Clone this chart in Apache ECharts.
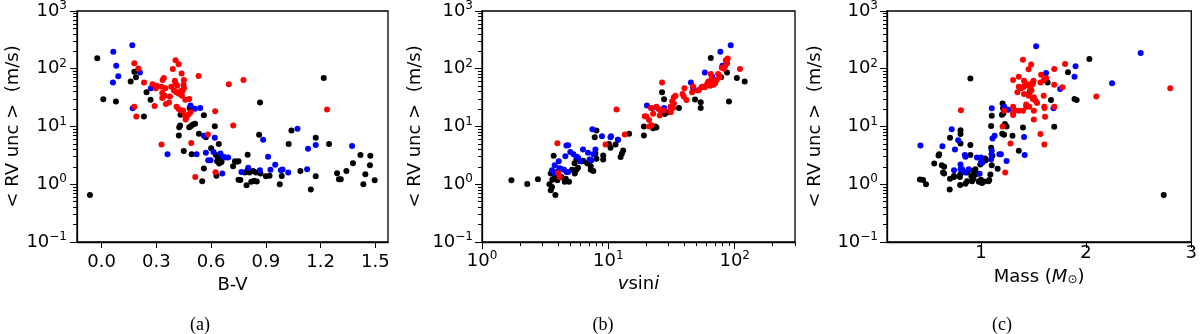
<!DOCTYPE html>
<html>
<head>
<meta charset="utf-8">
<script src="https://cdn.jsdelivr.net/npm/echarts@6/dist/echarts.min.js"></script>
<style>
  html, body { margin: 0; padding: 0; background: #fff; }
  #chart { width: 1200px; height: 334px; }
</style>
</head>
<body>
<div id="chart"></div>
<script>
// ---- panel (a): B-V vs <RV unc> ----
const bvBlack = [
  [-0.064,0.65],[-0.024,152],[0.009,29.6],[0.078,27],[0.159,60],[0.179,89],[0.188,71],[0.232,14.9],[0.246,39],[0.268,29],
  [0.432,15.9],[0.43,10.4],[0.425,9.7],[0.423,7.0],[0.48,9.7],[0.49,10.2],[0.50,10.8],[0.512,11.2],[0.482,21],[0.45,3.75],
  [0.493,3.3],[0.56,15.7],[0.62,10.1],[0.533,7.5],[0.571,6.5],[0.642,5.0],[0.60,4.2],[0.626,3.2],[0.637,2.67],[0.633,2.5],
  [0.644,2.28],[0.657,2.43],[0.648,3.04],[0.73,2.5],[0.74,2.45],[0.75,2.5],[0.72,2.04],[0.56,1.87],[0.551,1.13],[0.629,1.41],
  [0.75,1.2],[0.76,1.18],[0.80,3.25],[0.785,1.6],[0.80,1.75],[0.81,1.6],[0.83,1.7],[0.845,1.6],[0.82,1.1],[0.794,0.96],
  [0.835,1.15],[0.85,1.12],[0.87,1.53],[0.863,7.2],[0.868,26],[0.90,1.37],[0.92,1.4],[0.987,1.39],[0.976,1.0],[1.025,5.0],
  [1.04,8.5],[1.089,1.7],[1.146,0.81],[1.173,1.37],[1.173,6.4],[1.217,69],[1.246,5.0],[1.29,1.55],[1.30,1.22],[1.31,1.22],
  [1.341,1.7],[1.377,2.3],[1.418,3.2],[1.434,1.0],[1.445,1.49],[1.472,3.1],[1.47,2.13],[1.496,1.17]
];
const bvBlue = [
  [0.064,196],[0.080,113],[0.062,58],[0.091,74],[0.168,256],[0.210,86],[0.170,20.7],[0.270,46],[0.361,3.3],[0.487,23],
  [0.511,20.2],[0.540,21],[0.560,6.9],[0.620,6.4],[0.520,3.3],[0.571,3.5],[0.584,2.6],[0.597,2.6],[0.613,3.6],[0.651,3.4],
  [0.666,3.0],[0.677,2.9],[0.693,2.9],[0.661,1.53],[0.766,1.63],[0.803,1.94],[0.867,1.74],[0.885,5.9],[0.912,3.0],[0.925,1.78],
  [0.951,2.18],[0.982,1.75],[0.991,1.8],[1.022,1.59],[1.073,9.1],[1.126,1.82],[1.131,4.1],[1.173,4.8],[1.372,4.6]
];
const bvRed = [
  [0.179,124],[0.201,101],[0.179,22],[0.190,14.9],[0.232,58],[0.279,54],[0.301,51],[0.297,46],[0.290,22.7],[0.328,49],
  [0.334,64],[0.341,69],[0.332,38],[0.332,31],[0.345,34],[0.349,46],[0.352,24.6],[0.369,26],[0.374,33],[0.381,49],
  [0.396,42],[0.390,99],[0.405,141],[0.422,120],[0.401,62],[0.405,56],[0.414,51],[0.409,39],[0.422,37],[0.434,41],
  [0.443,41],[0.438,83],[0.451,64],[0.449,53],[0.451,46],[0.440,34],[0.458,29],[0.480,30],[0.411,22],[0.422,20],
  [0.434,18.9],[0.447,18.9],[0.456,15.5],[0.465,14.5],[0.476,16.1],[0.487,17.7],[0.460,13.2],[0.531,75],[0.328,4.9],[0.491,5.2],
  [0.513,1.34],[0.582,7.3],[0.622,18.4],[0.624,1.61],[0.697,54],[0.721,10.4],[0.777,64],[1.235,19.6]
];

// ---- panel (b): vsini vs <RV unc> ----
const vsBlack = [
  [1.71,1.17],[2.28,1.01],[2.77,1.22],[3.69,3.1],[3.5,1.53],[3.42,1.0],[3.58,0.9],[3.5,0.79],[3.81,0.65],[3.76,1.34],
  [3.95,1.17],[4.25,1.34],[4.52,1.1],[4.88,1.1],[5.16,1.79],[5.59,1.79],[5.42,1.53],[5.75,1.94],[5.59,2.67],[6.12,2.5],
  [6.3,2.55],[7.08,2.5],[7.26,1.79],[7.6,1.7],[7.25,2.04],[8.05,2.77],[7.9,3.4],[8.05,8.5],[7.8,6.5],[9.1,3.16],
  [9.1,2.67],[10.4,4.3],[12.8,3.4],[13.1,3.85],[12.5,2.96],[10.1,5.0],[11.4,4.9],[11.9,5.9],[14.6,7.5],[19.1,10],
  [19.1,7.0],[22.6,9.3],[23.5,10],[24,9.6],[26.6,39],[27.6,29.6],[27.9,16.5],[29.7,17.7],[36.2,21],[48.5,29.2],
  [53.8,26.3],[53.8,21],[64.7,153],[87,86.5],[78,71],[104,69],[120,60],[90,27],[3.6,1.2],[4.1,1.4],
  [4.6,1.25],[5.4,2.3],[6.8,2.3]
];
const vsBlue = [
  [93,256],[77,196],[80,113],[66.5,73],[58,86],[45,58],[47,46],[20.2,23],[22.2,20.7],[27.6,21],
  [7.47,9.0],[8.9,6.8],[10.4,6.5],[10.5,6.8],[11.9,5.9],[4.66,4.7],[4.8,4.75],[5.0,3.6],[5.3,3.3],[5.6,3.0],
  [5.75,2.9],[4.57,3.04],[6.3,4.0],[6.9,3.5],[7.9,4.0],[7.6,3.3],[7.1,2.67],[7.35,2.6],[5.97,2.5],[4.05,2.5],
  [3.76,2.13],[3.58,1.74],[3.7,1.57],[4.2,1.86],[4.46,1.79],[4.66,1.63],[4.8,1.63],[4.1,1.9],[3.9,1.63]
];
const vsRed = [
  [3.95,5.15],[4.0,1.57],[4.12,1.34],[9.5,4.9],[11.6,19.6],[13.5,7.3],[26.6,58],[110,99],[40,46],[38.6,36.6],
  [39.5,33],[34,34],[33,32],[32,27.3],[31,22],[41.5,28.8],[46,39],[46.8,49.5],[51,42],[56,49],
  [60,53],[63.5,54.5],[67.5,62],[72,64],[68,53],[64,51],[61.5,58],[65.5,66],[76,71],[74,81],
  [54.6,47.6],[52,43],[64.7,81],[85,141],[87,124],[84,112],[82,100],[20,14.9],[21,13],[22.6,16.6],
  [24.8,20.2],[24,22],[25.9,18.9],[25.5,15.5],[27.5,18.9],[21.7,21],[32.5,21],[31.2,17.7],[33,25],[21,10],
  [19.4,15.1],[22,10.5],[70,56],[58,48],[62,60],[86,130],[88,150],[79,104]
];

// ---- panel (c): mass vs <RV unc> ----
const massBlack = [
  [0.42,1.21],[0.45,1.18],[0.478,1.0],[0.556,2.28],[0.597,3.15],[0.603,3.3],[0.706,6.4],[0.628,2.13],[0.64,1.59],[0.65,1.53],
  [0.706,1.25],[0.703,0.81],[0.744,1.39],[0.806,8.6],[0.806,7.4],[0.806,5.06],[0.803,1.48],[0.803,0.97],[0.853,1.02],[0.869,1.13],
  [0.9,4.8],[0.9,3.2],[0.9,68],[0.869,1.59],[0.931,1.43],[0.947,1.81],[0.916,1.13],[0.98,1.1],[0.99,1.15],[1.0,1.1],
  [1.01,1.05],[0.994,2.2],[1.01,2.37],[1.025,2.5],[1.047,2.6],[1.072,1.13],[1.09,1.48],[1.097,4.3],[1.097,10.2],[1.103,15.3],
  [1.109,3.1],[1.159,1.86],[1.203,7.5],[1.206,25],[1.213,16.8],[1.21,20.6],[1.228,11],[1.244,10],[1.3,6.9],[1.36,3.8],
  [1.4,9.6],[1.463,39],[1.603,64],[1.634,58],[1.666,28.7],[1.697,9.9],[1.828,87],[1.89,30],[1.91,28.7],[2.031,148],
  [2.738,0.65],[0.8,1.33],[0.744,1.33],[0.91,1.38],[0.95,1.6],[1.0,1.2],[1.03,1.12],[1.079,1.18],[1.103,2.13],[1.22,7.2],
  [1.2,16],[0.96,1.5],[0.925,1.7],[1.04,2.8],[0.65,2.0],[0.93,1.25]
];
const massBlue = [
  [0.425,4.7],[0.634,4.55],[0.722,9.0],[0.753,4.0],[0.784,5.8],[0.744,1.74],[0.806,2.2],[0.806,1.81],[0.822,1.81],[0.847,3.2],
  [0.853,3.0],[0.85,1.6],[0.835,1.65],[0.884,1.81],[0.962,2.9],[1.0,2.9],[1.0,2.4],[1.01,2.35],[0.988,1.52],[1.097,2.7],
  [1.1,3.3],[1.103,3.8],[1.103,20.6],[1.11,6.2],[1.13,6.9],[1.175,3.3],[1.19,3.3],[1.222,22],[1.26,19.5],[1.244,2.53],
  [1.41,6.6],[1.416,3.2],[1.525,246],[1.619,84],[1.753,44.6],[1.69,20.6],[1.9,110],[1.89,73],[2.247,56],[2.519,188]
];
const massRed = [
  [0.81,19.2],[1.206,10.0],[1.231,1.59],[1.281,5.06],[1.306,22],[1.306,17.4],[1.306,15.8],[1.36,18.7],[1.306,64],[1.36,73],
  [1.4,143],[1.36,49],[1.38,46],[1.41,62],[1.416,51],[1.347,39],[1.41,36.5],[1.431,22],[1.4,18.7],[1.453,98],
  [1.478,118],[1.456,54],[1.47,44],[1.48,42],[1.49,54],[1.5,62],[1.495,58],[1.494,30],[1.519,28],[1.534,25.5],
  [1.503,18.7],[1.503,13.2],[1.566,7.4],[1.603,4.9],[1.572,79],[1.6,63],[1.62,69],[1.566,58],[1.597,34],[1.603,22],
  [1.61,14.7],[1.697,99],[1.697,53],[1.775,48],[1.8,121],[1.697,22],[2.097,33],[2.8,46],[1.401,48],[1.454,34],
  [1.43,24],[1.46,22],[1.22,18.7],[1.504,32],[1.44,52],[1.47,50],[1.605,21],[1.32,19]
];

// ---- tick values ----
const yMajor = [0.1, 1, 10, 100, 1000];
const yMinor = [0.2,0.3,0.4,0.5,0.6,0.7,0.8,0.9, 2,3,4,5,6,7,8,9, 20,30,40,50,60,70,80,90, 200,300,400,500,600,700,800,900];
const bvTicks = [0, 0.3, 0.6, 0.9, 1.2, 1.5];
const vsMajor = [1, 10, 100];
const vsMinor = [2,3,4,5,6,7,8,9, 20,30,40,50,60,70,80,90, 200,300];
const massTicks = [1, 2, 3];

const FONT = 'DejaVu Sans';
const BLACK = '#000000', BLUE = '#0000ff', RED = '#ff0000';

const chart = echarts.init(document.getElementById('chart'), null, { renderer: 'canvas' });

// 10^n labels
const powLabel = (v) => {
  const e = Math.round(Math.log10(v));
  return '{b|10}{e|' + (e < 0 ? '\u2212' + (-e) : e) + '}';
};
const powRich = {
  b: { fontSize: 18, fontFamily: FONT, color: '#000', lineHeight: 22 },
  e: { fontSize: 12, fontFamily: FONT, color: '#000', lineHeight: 12, verticalAlign: 'top' }
};

const lineStyle = { color: '#000', width: 1.3 };

const grids = [
  { left: 77, top: 10, width: 311, height: 232 },
  { left: 482, top: 10, width: 313, height: 232 },
  { left: 887, top: 10, width: 308, height: 232 }
].map(g => Object.assign(g, { show: true, borderColor: '#000', borderWidth: 1.3, backgroundColor: '#fff' }));

// y axis pair (major + minor ticks) for each grid
const yAxes = [];
const yNameGap = [51, 58, 63];
const yLabelMargin = [10, 9, 9];
[0, 1, 2].forEach(i => {
  yAxes.push({
    type: 'log', logBase: 10, gridIndex: i, min: 0.1, max: 1000, position: 'left',
    name: '< RV unc >  (m/s)', nameLocation: 'middle', nameGap: yNameGap[i],
    nameTextStyle: { fontSize: 18, fontFamily: FONT, color: '#000' },
    axisLine: { show: true, onZero: false, lineStyle },
    axisTick: { show: true, length: 7, customValues: yMajor, lineStyle: { color: '#000', width: 1 } },
    axisLabel: { customValues: yMajor, formatter: powLabel, margin: yLabelMargin[i], rich: powRich },
    splitLine: { show: false }
  });
  yAxes.push({
    type: 'log', logBase: 10, gridIndex: i, min: 0.1, max: 1000, position: 'left',
    axisLine: { show: false, onZero: false },
    axisTick: { show: true, length: 4, customValues: yMinor, lineStyle: { color: '#000', width: 1 } },
    axisLabel: { show: false },
    splitLine: { show: false }
  });
});

const xAxes = [
  {
    type: 'value', gridIndex: 0, min: -0.135, max: 1.569, position: 'bottom',
    name: 'B-V', nameLocation: 'middle', nameGap: 32,
    nameTextStyle: { fontSize: 18, fontFamily: FONT, color: '#000' },
    axisLine: { show: true, onZero: false, lineStyle },
    axisTick: { show: true, length: 6, customValues: bvTicks, lineStyle: { color: '#000', width: 1 } },
    axisLabel: { customValues: bvTicks, formatter: v => v.toFixed(1), margin: 11, fontSize: 18, fontFamily: FONT, color: '#000' },
    splitLine: { show: false }
  },
  {
    type: 'log', logBase: 10, gridIndex: 1, min: 1, max: 300, position: 'bottom',
    name: '{it|v}sin{it|i}', nameLocation: 'middle', nameGap: 25,
    nameTextStyle: { fontSize: 18, fontFamily: FONT, color: '#000',
      rich: { it: { fontSize: 18, fontFamily: FONT, fontStyle: 'italic', color: '#000' } } },
    axisLine: { show: true, onZero: false, lineStyle },
    axisTick: { show: true, length: 7, customValues: vsMajor, lineStyle: { color: '#000', width: 1 } },
    axisLabel: { customValues: vsMajor, formatter: powLabel, margin: 8, rich: powRich },
    splitLine: { show: false }
  },
  {
    type: 'log', logBase: 10, gridIndex: 1, min: 1, max: 300, position: 'bottom',
    axisLine: { show: false, onZero: false },
    axisTick: { show: true, length: 4, customValues: vsMinor, lineStyle: { color: '#000', width: 1 } },
    axisLabel: { show: false },
    splitLine: { show: false }
  },
  {
    type: 'value', gridIndex: 2, min: 0.107, max: 3, position: 'bottom',
    name: 'Mass ({it|M}{sub|\u2299})', nameLocation: 'middle', nameGap: 26,
    nameTextStyle: { fontSize: 18, fontFamily: FONT, color: '#000',
      rich: {
        it: { fontSize: 18, fontFamily: FONT, fontStyle: 'italic', color: '#000' },
        sub: { fontSize: 12, fontFamily: FONT, color: '#000', verticalAlign: 'bottom', lineHeight: 12 }
      } },
    axisLine: { show: true, onZero: false, lineStyle },
    axisTick: { show: true, length: 6, customValues: massTicks, lineStyle: { color: '#000', width: 1 } },
    axisLabel: { customValues: massTicks, formatter: v => String(v), margin: 2, fontSize: 18, fontFamily: FONT, color: '#000' },
    splitLine: { show: false }
  }
];

const dot = (data, color, xi, yi) => ({
  type: 'scatter', xAxisIndex: xi, yAxisIndex: yi,
  data, symbol: 'circle', symbolSize: 6,
  itemStyle: { color, opacity: 1 },
  emphasis: { disabled: true },
  silent: true
});

const option = {
  animation: false,
  backgroundColor: '#fff',
  grid: grids,
  xAxis: xAxes,
  yAxis: yAxes,
  series: [
    dot(bvBlack, BLACK, 0, 0), dot(bvBlue, BLUE, 0, 0), dot(bvRed, RED, 0, 0),
    dot(vsBlack, BLACK, 1, 2), dot(vsBlue, BLUE, 1, 2), dot(vsRed, RED, 1, 2),
    dot(massBlack, BLACK, 3, 4), dot(massBlue, BLUE, 3, 4), dot(massRed, RED, 3, 4)
  ],
  graphic: [
    { type: 'text', x: 200, y: 325, style: { text: '(a)', textAlign: 'center', textVerticalAlign: 'middle', font: '18px "Liberation Serif"', fill: '#000' } },
    { type: 'text', x: 603, y: 325, style: { text: '(b)', textAlign: 'center', textVerticalAlign: 'middle', font: '18px "Liberation Serif"', fill: '#000' } },
    { type: 'text', x: 1002, y: 325, style: { text: '(c)', textAlign: 'center', textVerticalAlign: 'middle', font: '18px "Liberation Serif"', fill: '#000' } }
  ]
};

chart.setOption(option);
</script>
</body>
</html>
